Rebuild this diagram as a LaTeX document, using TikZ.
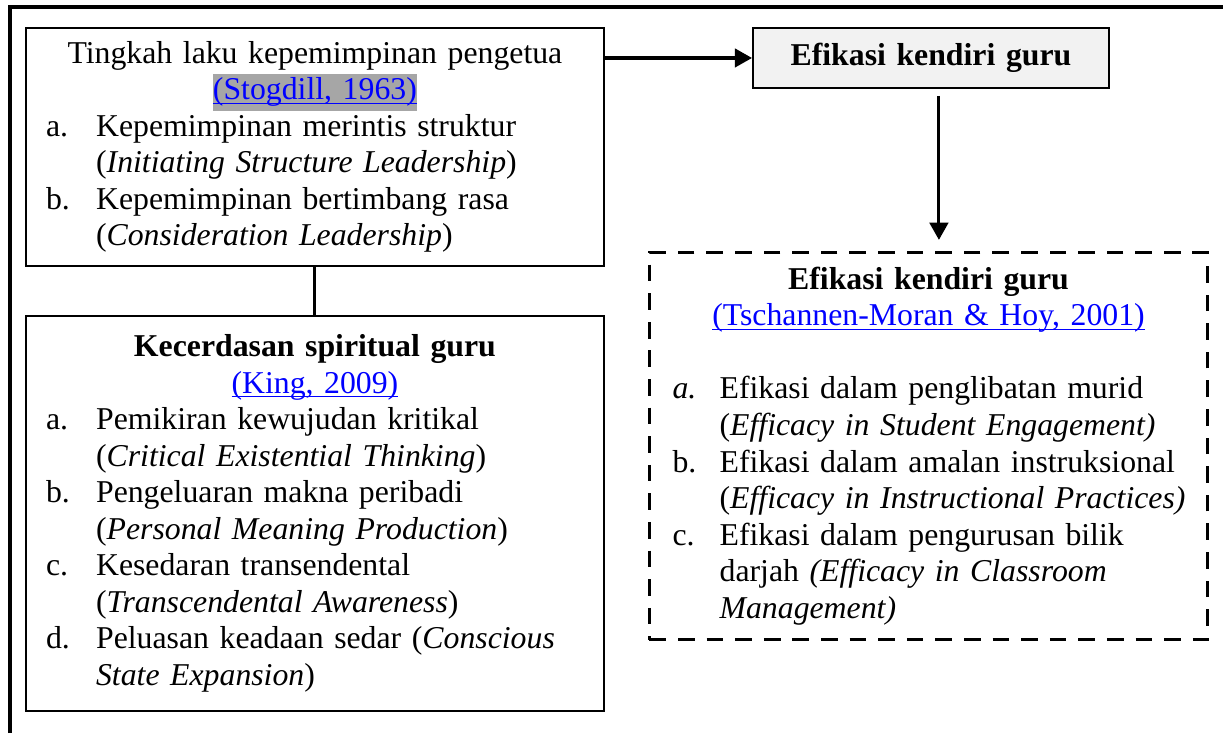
\documentclass[tikz,border=0pt]{standalone}
\usepackage{fontspec}
\setmainfont{Liberation Serif}
\usepackage{xcolor}
\usetikzlibrary{arrows.meta,positioning}
\definecolor{linkblue}{HTML}{0000FF}
\definecolor{markgray}{HTML}{A6A6A6}
\definecolor{boxgray}{HTML}{F2F2F2}
\newcommand{\sumber}[1]{\textcolor{linkblue}{\underline{\smash{#1}}}}
\newcommand{\tanda}[1]{{\setlength{\fboxsep}{0pt}\colorbox{markgray}{\strut#1}}}
\newcommand{\butir}[2][18.9pt]{\makebox[#1][l]{#2}}

\begin{document}
\begin{tikzpicture}[x=0.3777pt,y=-0.3777pt,
  font=\fontsize{12}{13.8}\selectfont,
  kotak/.style={draw,line width=0.7pt,anchor=north west,align=left,inner ysep=0pt},
  anak/.style={-{Triangle[length=6.5pt,width=7pt]},line width=1.15pt}]
\useasboundingbox (0,0) rectangle (1223,733);

\coordinate (sudut) at (10,7);
\draw[line width=1.5pt] (10,733) -- (sudut) -- (1223,7);

\node[kotak, inner xsep=7.6pt, text width=203.1pt, minimum height=89.9pt] (lead) at (25,27) {%
{\centering Tingkah laku kepemimpinan pengetua\\ \tanda{\sumber{(Stogdill, 1963)}}\par}
\butir{a.}Kepemimpinan merintis struktur\\
\butir{}(\textit{Initiating Structure Leadership})\\
\butir{b.}Kepemimpinan bertimbang rasa\\
\butir{}(\textit{Consideration Leadership})};

\node[kotak, inner xsep=7.6pt, text width=203.1pt, minimum height=149.2pt] (spirit) at (25,315) {%
{\centering\textbf{Kecerdasan spiritual guru}\\ \sumber{(King, 2009)}\par}
\butir{a.}Pemikiran kewujudan kritikal\\
\butir{}(\textit{Critical Existential Thinking})\\
\butir{b.}Pengeluaran makna peribadi\\
\butir{}(\textit{Personal Meaning Production})\\
\butir{c.}Kesedaran transendental\\
\butir{}(\textit{Transcendental Awareness})\\
\butir{d.}Peluasan keadaan sedar (\textit{Conscious}\\
\butir{}\textit{State Expansion})};

\node[kotak, fill=boxgray, align=center, inner sep=0pt, text width=134.5pt, minimum height=22.7pt, font=\fontsize{12}{13.8}\selectfont\bfseries] (eff) at (752,27) {Efikasi kendiri guru};

\node[kotak, dash pattern=on 6.3pt off 4.5pt, line width=1.1pt, inner xsep=8.7pt, text width=193.4pt, minimum height=146.2pt] (effd) at (648,251) {%
{\centering\textbf{Efikasi kendiri guru}\\ \sumber{(Tschannen-Moran \& Hoy, 2001)}\par\mbox{}\par}
\butir[17.8pt]{\textit{a.}}Efikasi dalam penglibatan murid\\
\butir[17.8pt]{}(\textit{Efficacy in Student Engagement)}\\
\butir[17.8pt]{b.}\mbox{Efikasi dalam amalan instruksional}\\
\butir[17.8pt]{}\mbox{(\textit{Efficacy in Instructional Practices)}}\\
\butir[17.8pt]{c.}Efikasi dalam pengurusan bilik\\
\butir[17.8pt]{}darjah \textit{(Efficacy in Classroom}\\
\butir[17.8pt]{}\textit{Management)}};

\draw[line width=1.15pt] (lead.south) -- (spirit.north);
\draw[anak] (lead.east |- eff.west) -- (eff.west);
\draw[anak, shorten <=2.6pt, shorten >=4.2pt] ([xshift=3pt]eff.south) -- ([xshift=3pt]eff.south |- effd.north);
\end{tikzpicture}
\end{document}
